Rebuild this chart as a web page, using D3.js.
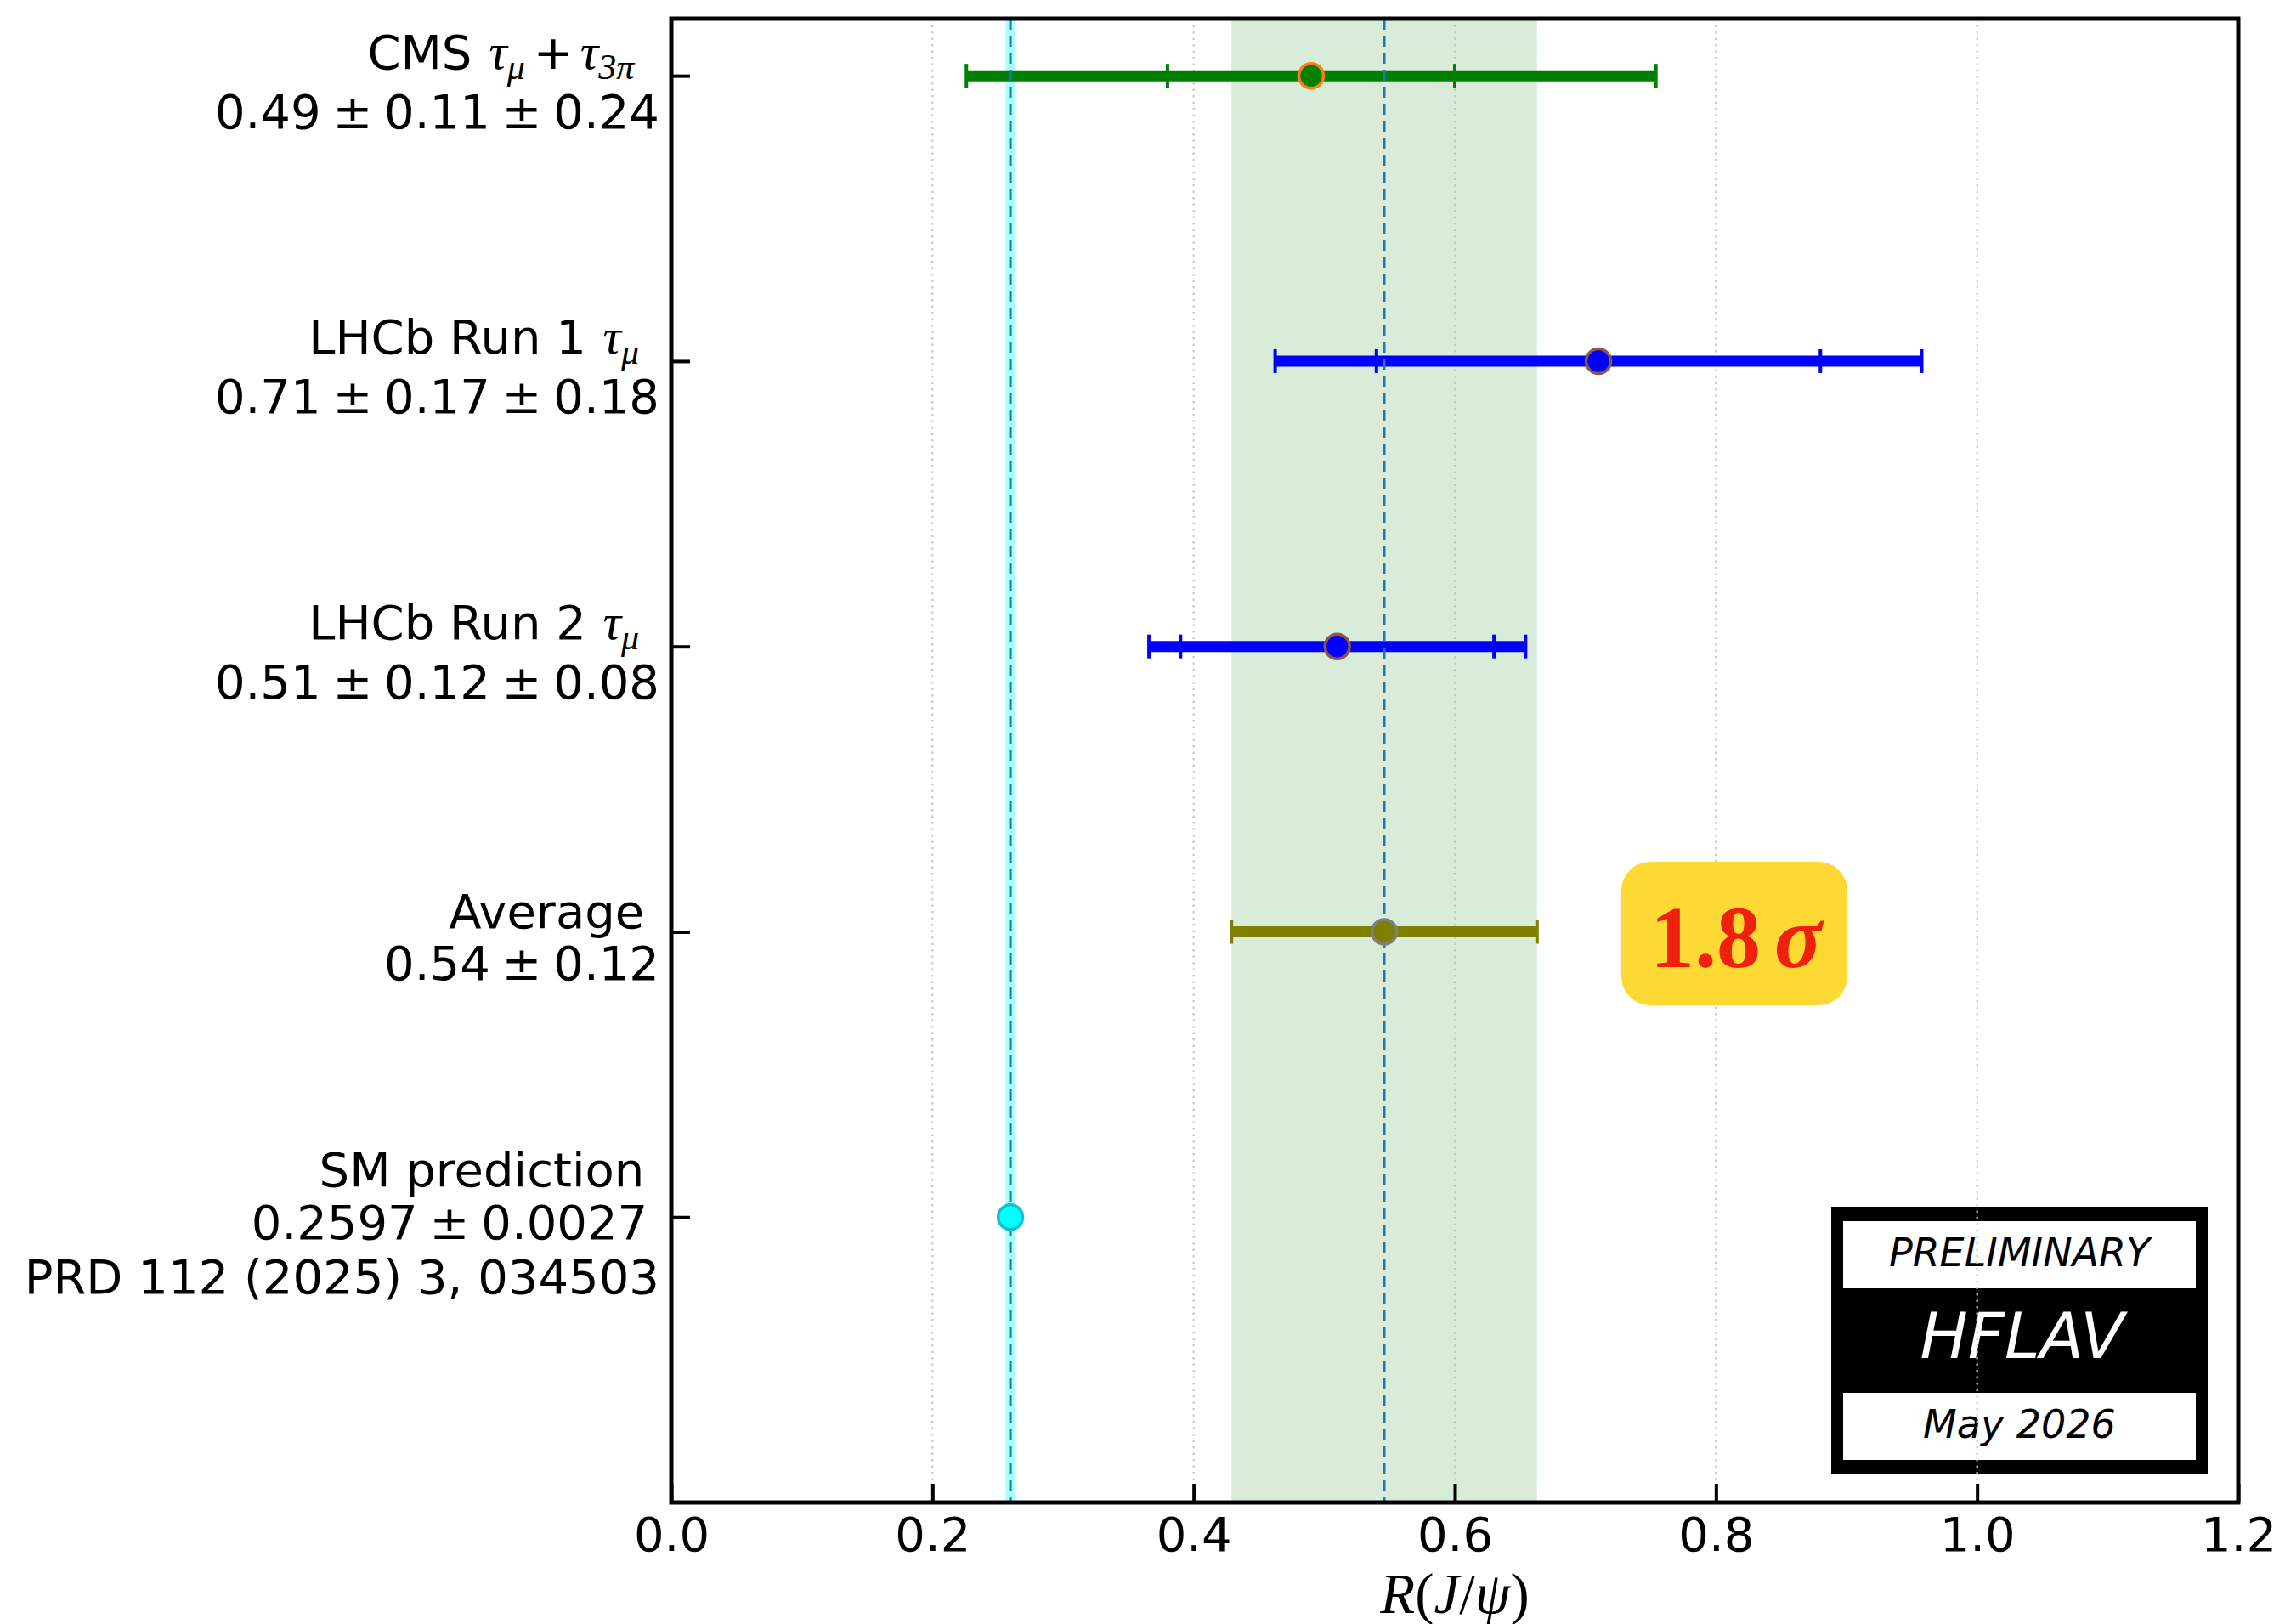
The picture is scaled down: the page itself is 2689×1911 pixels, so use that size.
<!DOCTYPE html>
<html><head><meta charset="utf-8">
<script src="https://cdn.jsdelivr.net/npm/d3@7"></script>
<style>body{margin:0;background:#fff} text{white-space:pre}</style>
</head><body>
<svg id="c" width="2689" height="1911" xmlns="http://www.w3.org/2000/svg"></svg>
<script>
// ---------- data ----------
const rows = [5, 4, 3, 2, 1];
const labelLine1 = ["CMS ", "LHCb Run 1 ", "LHCb Run 2 ", "Average ", "SM prediction "];
const labelMath = [[["τ", "μ"], ["τ", "3π"]], [["τ", "μ"]], [["τ", "μ"]], [], []];
const labelRest = [["0.49 ± 0.11 ± 0.24"], ["0.71 ± 0.17 ± 0.18"], ["0.51 ± 0.12 ± 0.08"], ["0.54 ± 0.12"], ["0.2597 ± 0.0027 ", "PRD 112 (2025) 3, 034503"]];
const centrals = [0.49, 0.71, 0.51, 0.546, 0.2597];
const statErrs = [0.11, 0.17, 0.12, 0.117, 0.0027];
const systErrs = [0.24, 0.18, 0.08, 0, 0];
const showBar = [true, true, true, true, false];
const barColors = ["#008000", "#0000ff", "#0000ff", "#808000", "#00ffff"];
const edgeColors = ["#ff7f0e", "#8c564b", "#8c564b", "#7f7f7f", "#17becf"];
const xTicks = [0.0, 0.2, 0.4, 0.6, 0.8, 1.0, 1.2];
const gridTicks = [0.2, 0.4, 0.6, 0.8, 1.0];
const avgIndex = 3, smIndex = 4;
const significance = "1.8";
const boxLines = ["PRELIMINARY", "HFLAV", "May 2026"];

// ---------- layout ----------
const L = 790, R = 2634, T = 22, B = 1768;
const FS = 56;
const svg = d3.select("#c");
const x = d3.scaleLinear().domain([0, 1.2]).range([L, R]);
const y = d3.scaleLinear().domain([0, 5.2]).range([B, T]);
const totalErr = statErrs.map((s, i) => Math.sqrt(s * s + systErrs[i] * systErrs[i]));

// average band
const aC = centrals[avgIndex], aE = totalErr[avgIndex];
svg.append("rect").attr("x", x(aC - aE)).attr("y", T).attr("width", x(aC + aE) - x(aC - aE)).attr("height", B - T)
  .attr("fill", "#008000").attr("fill-opacity", 0.15);
// SM band
const sC = centrals[smIndex], sE = statErrs[smIndex];
svg.append("rect").attr("x", x(sC - sE) - 1.5).attr("y", T).attr("width", x(sC + sE) - x(sC - sE) + 3).attr("height", B - T)
  .attr("fill", "#aaffff");

// HFLAV box
const bx = 2155, by = 1420, bw = 443, bh = 315;
svg.append("rect").attr("x", bx).attr("y", by).attr("width", bw).attr("height", bh).attr("fill", "#000");
svg.append("rect").attr("x", bx + 14).attr("y", by + 17).attr("width", bw - 28).attr("height", 79).attr("fill", "#fff");
svg.append("rect").attr("x", bx + 14).attr("y", by + 219).attr("width", bw - 28).attr("height", 79).attr("fill", "#fff");
svg.append("text").attr("x", bx + bw / 2).attr("y", 1490).attr("text-anchor", "middle")
  .attr("font-family", "DejaVu Sans").attr("font-style", "italic").attr("font-size", 46).text(boxLines[0]);
svg.append("text").attr("x", bx + bw / 2 + 3).attr("y", 1598).attr("text-anchor", "middle").attr("fill", "#fff")
  .attr("font-family", "DejaVu Sans").attr("font-style", "italic").attr("font-size", 75).text(boxLines[1]);
svg.append("text").attr("x", bx + bw / 2).attr("y", 1692).attr("text-anchor", "middle")
  .attr("font-family", "DejaVu Sans").attr("font-style", "italic").attr("font-size", 46).text(boxLines[2]);

// grid
svg.append("g").selectAll("line").data(gridTicks).join("line")
  .attr("x1", d => x(d)).attr("x2", d => x(d)).attr("y1", T).attr("y2", B)
  .attr("stroke", "#c8c8c8").attr("stroke-width", 2.2).attr("stroke-dasharray", "2.5,5");

// significance box
svg.append("rect").attr("x", 1908).attr("y", 1014).attr("width", 266).attr("height", 169).attr("rx", 34)
  .attr("fill", "#fed833");
const sig = svg.append("text").attr("x", 2043).attr("y", 1138).attr("text-anchor", "middle")
  .attr("font-family", "Liberation Serif").attr("font-weight", "bold").attr("font-size", 104).attr("fill", "#ee220c");
sig.append("tspan").text(significance);
sig.append("tspan").attr("dx", 16).attr("font-style", "italic").text("σ");

// error bars
const idx = d3.range(rows.length).filter(i => showBar[i]);
const gb = svg.append("g");
gb.selectAll("line.bar").data(idx).join("line").attr("class", "bar")
  .attr("x1", i => x(centrals[i] - totalErr[i])).attr("x2", i => x(centrals[i] + totalErr[i]))
  .attr("y1", i => y(rows[i])).attr("y2", i => y(rows[i]))
  .attr("stroke", i => barColors[i]).attr("stroke-width", 13);
const caps = [];
idx.forEach(i => {
  caps.push({ i, v: centrals[i] - totalErr[i] }, { i, v: centrals[i] + totalErr[i] });
  if (systErrs[i] > 0) caps.push({ i, v: centrals[i] - statErrs[i] }, { i, v: centrals[i] + statErrs[i] });
});
gb.selectAll("line.cap").data(caps).join("line").attr("class", "cap")
  .attr("x1", d => x(d.v)).attr("x2", d => x(d.v))
  .attr("y1", d => y(rows[d.i]) - 14).attr("y2", d => y(rows[d.i]) + 14)
  .attr("stroke", d => barColors[d.i]).attr("stroke-width", 4);

// dashed lines
[aC, sC].forEach(v => {
  svg.append("line").attr("x1", x(v)).attr("x2", x(v)).attr("y1", T).attr("y2", B)
    .attr("stroke", "#1f77b4").attr("stroke-width", 3).attr("stroke-dasharray", "13,7");
});

// markers
svg.append("g").selectAll("circle").data(d3.range(rows.length)).join("circle")
  .attr("cx", i => x(centrals[i])).attr("cy", i => y(rows[i])).attr("r", 14.5)
  .attr("fill", i => barColors[i]).attr("stroke", i => edgeColors[i]).attr("stroke-width", 3.5);

// x axis
const gx = svg.append("g").attr("transform", `translate(0,${B})`)
  .call(d3.axisBottom(x).tickValues(xTicks).tickFormat(d3.format(".1f")).tickSize(-22).tickSizeOuter(0));
gx.select(".domain").remove();
gx.selectAll(".tick line").attr("stroke", "#000").attr("stroke-width", 4);
gx.selectAll(".tick text").attr("y", 57).attr("dy", 0).attr("font-size", FS).attr("font-family", "DejaVu Sans").attr("fill", "#000");

// y axis
const gy = svg.append("g").attr("transform", `translate(${L},0)`)
  .call(d3.axisLeft(y).tickValues(rows).tickFormat("").tickSize(-22).tickSizeOuter(0));
gy.select(".domain").remove();
gy.selectAll(".tick line").attr("stroke", "#000").attr("stroke-width", 4);
gy.selectAll(".tick").each(function (d) {
  const i = rows.indexOf(d);
  const g = d3.select(this);
  const nLines = 1 + labelRest[i].length;
  const offs = nLines === 3 ? [-37, 25, 89] : (labelMath[i].length ? [-9, 61] : [-5, 56]);
  const t1 = g.append("text").attr("x", -14).attr("y", offs[0]).attr("text-anchor", "end")
    .attr("font-family", "DejaVu Sans").attr("font-size", FS).attr("fill", "#000");
  t1.append("tspan").text(labelLine1[i]);
  const m = labelMath[i];
  m.forEach((term, k) => {
    t1.append("tspan").attr("font-family", "Liberation Serif").attr("font-style", "italic").attr("font-size", 60)
      .attr("dx", k === 0 ? 2 : 8).text(term[0]);
    t1.append("tspan").attr("font-family", "Liberation Serif").attr("font-style", "italic").attr("font-size", 42)
      .attr("dy", 12).text(term[1]);
    if (k < m.length - 1) {
      t1.append("tspan").attr("font-family", "DejaVu Sans").attr("font-size", FS).attr("dy", -12).attr("dx", 10).text("+");
    } else {
      t1.append("tspan").attr("font-size", FS).attr("dy", -12).attr("dx", m.length > 1 ? 12 : 6).text(" ");
    }
  });
  labelRest[i].forEach((line, k) => {
    g.append("text").attr("x", -14).attr("y", offs[k + 1]).attr("text-anchor", "end")
      .attr("font-family", "DejaVu Sans").attr("font-size", FS).attr("fill", "#000")
      .attr("word-spacing", line.includes("±") ? -4 : 0).text(line);
  });
});

// spine
svg.append("rect").attr("x", L).attr("y", T).attr("width", R - L).attr("height", B - T)
  .attr("fill", "none").attr("stroke", "#000").attr("stroke-width", 5);

// x label
const xl = svg.append("text").attr("x", (L + R) / 2).attr("y", 1898).attr("text-anchor", "middle")
  .attr("font-family", "Liberation Serif").attr("font-size", 67).attr("fill", "#000");
xl.append("tspan").attr("font-style", "italic").text("R");
xl.append("tspan").text("(");
xl.append("tspan").attr("font-style", "italic").text("J");
xl.append("tspan").text("/");
xl.append("tspan").attr("font-style", "italic").text("ψ");
xl.append("tspan").text(")");
</script>
</body></html>
